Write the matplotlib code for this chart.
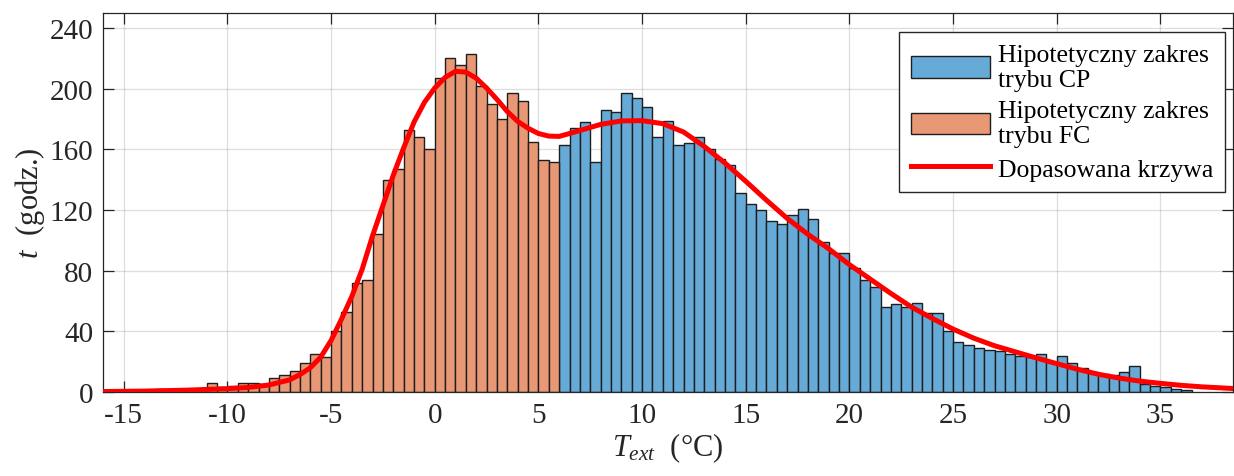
import numpy as np
import matplotlib
matplotlib.use('Agg')
import matplotlib.pyplot as plt

plt.rcParams['font.family'] = ['Liberation Serif', 'DejaVu Serif']
plt.rcParams['mathtext.fontset'] = 'custom'
plt.rcParams['mathtext.rm'] = 'Liberation Serif'
plt.rcParams['mathtext.it'] = 'Liberation Serif:italic'
plt.rcParams['axes.unicode_minus'] = False

# hours in each 0.5 degC bin of outdoor temperature
bin_width = 0.5
fc_start = -16.0   # FC range: -16 .. 6 degC
cp_start = 6.0     # CP range: 6 .. 36.5 degC

fc_counts = [1, 1, 0, 1, 1, 2, 1, 2, 2, 2, 6, 3, 4, 6, 6, 5, 9, 11, 14, 19,
             25, 23, 40, 53, 72, 74, 104, 140, 147, 173, 168, 160, 207, 220,
             216, 223, 202, 190, 180, 197, 192, 165, 153, 152]

cp_counts = [163, 174, 178, 152, 186, 185, 197, 194, 188, 168, 179, 163, 164,
             168, 160, 154, 150, 131, 124, 120, 113, 111, 117, 121, 114, 99,
             92, 92, 82, 74, 69, 56, 58, 56, 59, 52, 52, 40, 33, 31, 29, 28,
             27, 25, 24, 23, 25, 20, 24, 19, 16, 13, 12, 11, 13, 17, 5, 4, 3,
             2, 1]

# fitted distribution curve
fit_temp = [-16, -14, -12, -10, -9, -8, -7, -6.5, -6, -5.5, -5, -4.5, -4,
            -3.5, -3, -2.5, -2, -1.5, -1, -0.5, 0, 0.5, 1, 1.5, 2, 2.5, 3,
            3.5, 4, 4.5, 5, 5.5, 6, 6.5, 7, 8, 9, 10, 11, 12, 13, 14, 15, 16,
            17, 18, 19, 20, 21, 22, 23, 24, 25, 26, 27, 28, 29, 30, 31, 32,
            33, 34, 35, 36, 37, 38.5]
fit_hours = [0.3, 0.6, 1.2, 2.2, 3.0, 4.6, 8, 11.5, 16, 23, 34, 48, 63, 81,
             103, 123, 143, 161, 178, 191, 200.5, 207.5, 211.5, 211, 207, 200.5,
             193, 185, 178.5, 174, 170.5, 168.8, 168.6, 170.5, 172.5, 176.5,
             178.8, 179, 177, 171.5, 162, 151, 139, 126.5, 114.5, 104, 94.5,
             84, 74.5, 65, 56, 48.5, 41.5, 35.5, 30.5, 26.5, 22.5, 18.7, 15,
             11.7, 9.2, 7.2, 5.7, 4.4, 3.4, 2.3]

fc_left = fc_start + bin_width * np.arange(len(fc_counts))
cp_left = cp_start + bin_width * np.arange(len(cp_counts))

fig = plt.figure(figsize=(12.34, 4.77), dpi=100)
ax = fig.add_axes([103 / 1234, 84 / 477, 1130 / 1234, 379 / 477])

cp_bars = ax.bar(cp_left, cp_counts, width=bin_width, align='edge',
                 color='#66aad7', edgecolor='#1e1e1e', linewidth=1.0, zorder=2)
fc_bars = ax.bar(fc_left, fc_counts, width=bin_width, align='edge',
                 color='#e89875', edgecolor='#1e1e1e', linewidth=1.0, zorder=2)
fit_line, = ax.plot(fit_temp, fit_hours, color='#ff0000', linewidth=3.6,
                    zorder=3)

ax.set_xlim(-16, 38.5)
ax.set_ylim(0, 250)
ax.set_xticks(np.arange(-15, 36, 5))
ax.set_yticks(np.arange(0, 241, 40))
ax.grid(True, color='#262626', alpha=0.15, linewidth=0.9)
ax.set_axisbelow(True)
ax.tick_params(direction='in', length=8, width=0.9, top=True, right=True,
               labelsize=21, colors='#262626', pad=7)
for sp in ax.spines.values():
    sp.set_color('#262626')
    sp.set_linewidth(0.9)

ax.set_xlabel(r'$T_{ext}$  (°C)', fontsize=22, color='#262626', labelpad=2)
ax.set_ylabel(r'$t$  (godz.)', fontsize=22, color='#262626', labelpad=2)

leg = ax.legend([cp_bars, fc_bars, fit_line],
                ['Hipotetyczny zakres\ntrybu CP',
                 'Hipotetyczny zakres\ntrybu FC',
                 'Dopasowana krzywa'],
                loc='upper right', bbox_to_anchor=(0.993, 0.95),
                borderaxespad=0, fontsize=18.5, frameon=True, fancybox=False,
                framealpha=1, edgecolor='#262626', handlelength=3.1,
                handleheight=0.9, handletextpad=0.3, labelspacing=0.35,
                borderpad=0.45)
leg.get_frame().set_linewidth(1.0)

fig.savefig('out.png', dpi=100)
